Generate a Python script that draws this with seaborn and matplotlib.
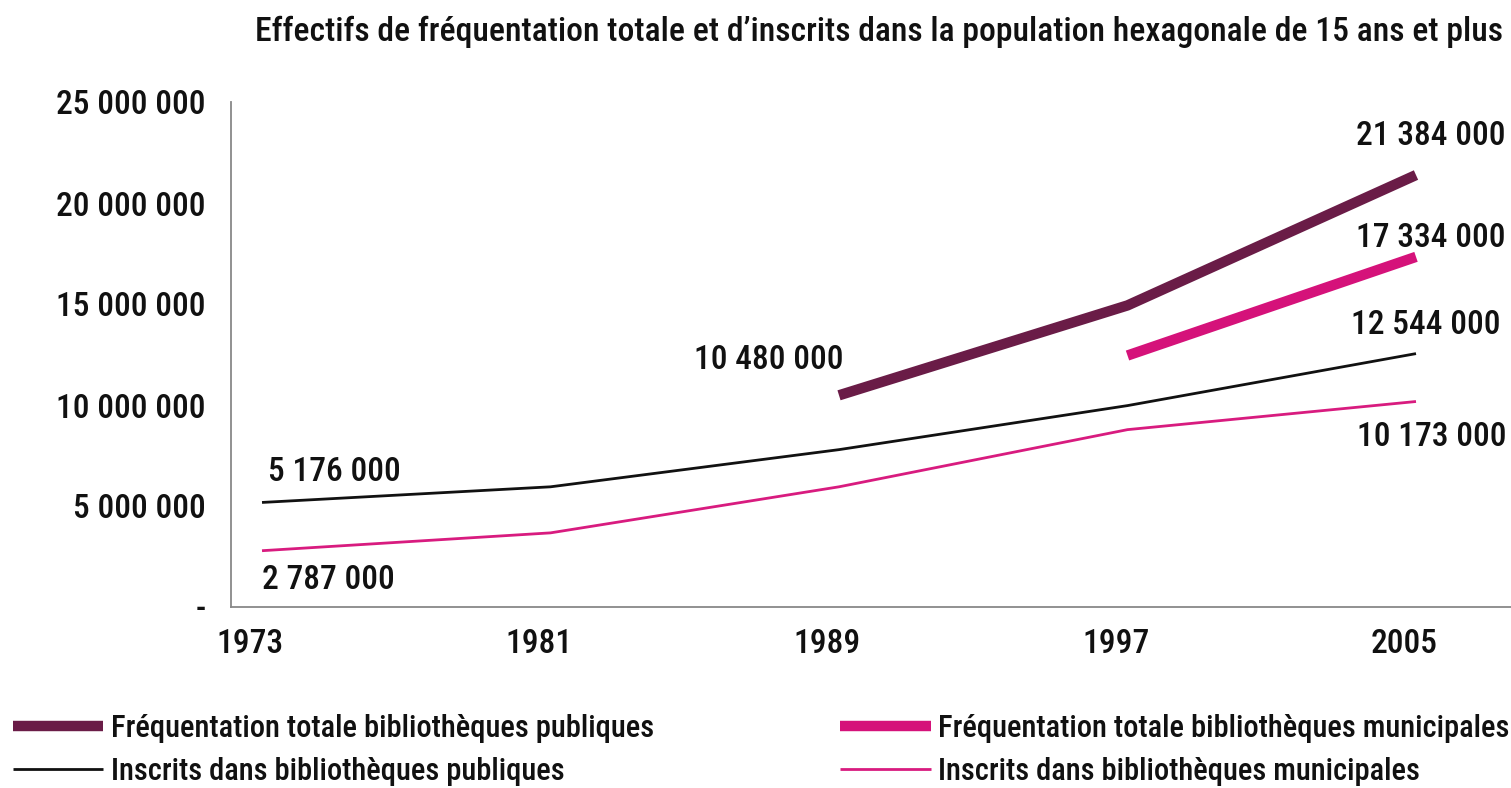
import pandas as pd
import matplotlib.pyplot as plt
import numpy as np
import seaborn as sns

years = [1973, 1981, 1989, 1997, 2005]
freq_publiques = [np.nan, np.nan, 10480000, 14930000, 21384000]
freq_municipales = [np.nan, np.nan, np.nan, 12450000, 17334000]
inscrits_publiques = [5176000, 5950000, 7790000, 9970000, 12544000]
inscrits_municipales = [2787000, 3670000, 5950000, 8780000, 10173000]

series_names = ["Fréquentation totale bibliothèques publiques",
                "Fréquentation totale bibliothèques municipales",
                "Inscrits dans bibliothèques publiques",
                "Inscrits dans bibliothèques municipales"]
series_colors = ["#6a1c47", "#d5127a", "#111111", "#d81b7f"]
series_widths = [7.5, 7.5, 2.0, 2.0]
yticks = [0, 5000000, 10000000, 15000000, 20000000, 25000000]
ytick_labels = ["-", "5 000 000", "10 000 000", "15 000 000", "20 000 000", "25 000 000"]
title = "Effectifs de fréquentation totale et d\u2019inscrits dans la population hexagonale de 15 ans et plus"

df = pd.DataFrame({"year": years * 4,
                   "value": freq_publiques + freq_municipales + inscrits_publiques + inscrits_municipales,
                   "serie": np.repeat(series_names, len(years))})

sns.set_style("white")
plt.rcParams["font.family"] = ["Roboto Condensed", "Sofia Sans Condensed", "DejaVu Sans"]
plt.rcParams["font.weight"] = "medium"
plt.rcParams["text.color"] = "#111111"
plt.rcParams["xtick.color"] = "#111111"
plt.rcParams["ytick.color"] = "#111111"

fig = plt.figure(figsize=(15.11, 7.88), dpi=100)
ax = fig.add_axes([231 / 1511, 1 - 607 / 788, 1 - 231 / 1511, (607 - 102) / 788])

for name, col, lw in zip(series_names, series_colors, series_widths):
    sns.lineplot(data=df[df["serie"] == name], x="year", y="value", color=col,
                 linewidth=lw, ax=ax, label=name, solid_capstyle="butt")

ax.set_ylim(0, 25000000)
ax.set_xlim(1973 - 31 / 36.06, 2005 + 95 / 36.06)
ax.set_yticks(yticks)
ax.set_yticklabels(ytick_labels, fontsize=24)
ax.tick_params(axis="y", length=0, pad=18)

# tick marks between positions (Excel-like), labels slightly right of marks
ax.set_xticks([y - 0.86 for y in years])
ax.set_xticklabels([])
ax.set_xticks([y - 0.33 for y in years], minor=True)
ax.set_xticklabels([str(y) for y in years], minor=True, fontsize=24)
ax.tick_params(axis="x", which="major", length=8, width=1.3, color="#888888", direction="out")
ax.tick_params(axis="x", which="minor", length=0, pad=15)
ax.set_xlabel("")
ax.set_ylabel("")

for s in ["top", "right"]:
    ax.spines[s].set_visible(False)
for s in ["left", "bottom"]:
    ax.spines[s].set_color("#888888")
    ax.spines[s].set_linewidth(1.3)

labels = [(1973, inscrits_publiques[0], 6, 30, "left"),
          (1973, inscrits_municipales[0], 0, -29, "left"),
          (1989, freq_publiques[2], 4, 35, "right"),
          (2005, freq_publiques[4], 15, 39, "center"),
          (2005, freq_municipales[4], 15, 19, "center"),
          (2005, inscrits_publiques[4], 10, 29, "center"),
          (2005, inscrits_municipales[4], 16, -35, "center")]
for x, v, dx, dy, ha in labels:
    ax.annotate(f"{int(v):,}".replace(",", " "), xy=(x, v), xytext=(dx, dy),
                textcoords="offset pixels", ha=ha, va="center", fontsize=24)

ax.get_legend().remove()
handles, lbls = ax.get_legend_handles_labels()
# two legend columns placed separately
for idx, x0 in [([0, 2], -0.0096), ([1, 3], 0.538)]:
    fig.legend([handles[i] for i in idx], [lbls[i] for i in idx],
               loc="lower left", bbox_to_anchor=(x0, -0.032), frameon=False,
               fontsize=22, handlelength=2.95, handletextpad=0.25,
               labelspacing=0.45)

fig.text(1503 / 1511, 1 - 32 / 788, title, ha="right", va="center", fontsize=24.2)

fig.savefig("out.png", dpi=100)
